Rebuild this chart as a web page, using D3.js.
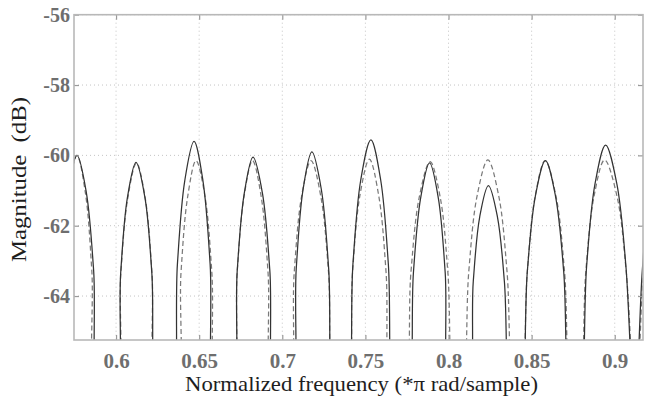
<!DOCTYPE html>
<html>
<head>
<meta charset="utf-8">
<script src="https://cdn.jsdelivr.net/npm/d3@7"></script>
<style>
  body { margin: 0; background: #fff; }
  svg { display: block; }
  svg text { font-family: 'Liberation Serif', 'DejaVu Serif', 'Times New Roman', serif; }
</style>
</head>
<body>
<div id="chart"><svg></svg></div>
<script>
// tick values
const xTicks = [0.6, 0.65, 0.7, 0.75, 0.8, 0.85, 0.9]
const yTicks = [-64, -62, -60, -58, -56]

// [normalized frequency, magnitude dB], solid trace
const solidTrace = [
  [0.5651, -63.3], [0.5709, -61.05], [0.5765, -60.0], [0.5821, -61.05], [0.5865, -63.26], [0.5909, -67.35],
  [0.5987, -67.27], [0.6028, -63.33], [0.6068, -61.21], [0.6120, -60.2], [0.6174, -61.21], [0.6215, -63.33], [0.6257, -67.27],
  [0.6326, -67.51], [0.6369, -63.10], [0.6413, -60.73], [0.6469, -59.6], [0.6523, -60.73], [0.6566, -63.10], [0.6608, -67.51],
  [0.6688, -67.33], [0.6729, -63.27], [0.6771, -61.09], [0.6824, -60.05], [0.6881, -61.09], [0.6925, -63.27], [0.6970, -67.33],
  [0.7043, -67.39], [0.7084, -63.22], [0.7125, -60.97], [0.7178, -59.9], [0.7235, -60.97], [0.7279, -63.22], [0.7323, -67.39],
  [0.7377, -67.53], [0.7425, -63.09], [0.7472, -60.70], [0.7533, -59.56], [0.7592, -60.70], [0.7638, -63.09], [0.7685, -67.53],
  [0.7747, -67.27], [0.7789, -63.33], [0.7832, -61.22], [0.7886, -60.21], [0.7939, -61.22], [0.7980, -63.33], [0.8021, -67.27],
  [0.8108, -67.01], [0.8149, -63.58], [0.8188, -61.74], [0.8240, -60.86], [0.8294, -61.74], [0.8336, -63.58], [0.8379, -67.01],
  [0.8427, -67.29], [0.8474, -63.31], [0.8522, -61.17], [0.8583, -60.15], [0.8644, -61.17], [0.8693, -63.31], [0.8740, -67.29],
  [0.8780, -67.47], [0.8831, -63.14], [0.8881, -60.82], [0.8945, -59.71], [0.9013, -60.82], [0.9067, -63.14], [0.9120, -67.47],
  [0.9166, -63.26], [0.9210, -61.05], [0.9267, -60.0]
]

// [normalized frequency, magnitude dB], dashed trace
const dashedTrace = [
  [0.5676, -63.26], [0.5715, -61.05], [0.5765, -60.0], [0.5815, -61.05], [0.5854, -63.26], [0.5893, -67.35],
  [0.5989, -67.26], [0.6029, -63.34], [0.6070, -61.23], [0.6123, -60.22], [0.6176, -61.23], [0.6216, -63.34], [0.6257, -67.26],
  [0.6352, -67.29], [0.6391, -63.31], [0.6431, -61.17], [0.6481, -60.15], [0.6535, -61.17], [0.6576, -63.31], [0.6618, -67.29],
  [0.6688, -67.29], [0.6729, -63.31], [0.6770, -61.17], [0.6821, -60.15], [0.6873, -61.17], [0.6914, -63.31], [0.6954, -67.29],
  [0.7028, -67.29], [0.7072, -63.31], [0.7116, -61.17], [0.7173, -60.15], [0.7232, -61.17], [0.7278, -63.31], [0.7324, -67.29],
  [0.7379, -67.31], [0.7423, -63.30], [0.7467, -61.14], [0.7524, -60.11], [0.7580, -61.14], [0.7624, -63.30], [0.7667, -67.31],
  [0.7723, -67.28], [0.7774, -63.32], [0.7824, -61.19], [0.7889, -60.18], [0.7950, -61.19], [0.7996, -63.32], [0.8043, -67.28],
  [0.8072, -67.30], [0.8122, -63.30], [0.8172, -61.15], [0.8237, -60.13], [0.8302, -61.15], [0.8352, -63.30], [0.8403, -67.30],
  [0.8427, -67.29], [0.8474, -63.31], [0.8521, -61.17], [0.8581, -60.15], [0.8647, -61.17], [0.8698, -63.31], [0.8749, -67.29],
  [0.8777, -67.30], [0.8826, -63.30], [0.8876, -61.15], [0.8939, -60.13], [0.9013, -61.15], [0.9069, -63.30], [0.9126, -67.30],
  [0.9170, -63.4], [0.9212, -61.1], [0.9267, -60.0]
]

const xDomain = [0.5747, 0.917]
const yDomain = [-65.25, -56]

const margin = { top: 14.7, right: 3, bottom: 63, left: 74 }
const svgWidth = 646
const svgHeight = 403
const width = svgWidth - margin.left - margin.right
const height = svgHeight - margin.top - margin.bottom

/**
 * Draws the dotted grid behind the traces.
 *
 * @param {*} g The d3 Selection of the graph's g SVG element
 * @param {*} x The x scale
 * @param {*} y The y scale
 */
function drawGrid (g, x, y) {
  const grid = g.append('g').attr('class', 'grid')
    .attr('stroke', '#c4c4c4')
    .attr('stroke-width', 1)
    .attr('stroke-dasharray', '1,3')

  grid.selectAll('.vx')
    .data(xTicks)
    .enter()
    .append('line')
    .attr('x1', (d) => x(d))
    .attr('x2', (d) => x(d))
    .attr('y1', 0)
    .attr('y2', height)

  grid.selectAll('.hy')
    .data(yTicks)
    .enter()
    .append('line')
    .attr('x1', 0)
    .attr('x2', width)
    .attr('y1', (d) => y(d))
    .attr('y2', (d) => y(d))
}

/**
 * Draws the box and the tick labels.
 *
 * @param {*} g The d3 Selection of the graph's g SVG element
 * @param {*} x The x scale
 * @param {*} y The y scale
 */
function drawAxes (g, x, y) {
  const xAxis = d3.axisBottom(x)
    .tickValues(xTicks)
    .tickSize(-5)
    .tickSizeOuter(0)
    .tickPadding(13)
    .tickFormat((d) => String(d))

  const yAxis = d3.axisLeft(y)
    .tickValues(yTicks)
    .tickSize(-5)
    .tickSizeOuter(0)
    .tickPadding(4)
    .tickFormat((d) => String(d))

  g.append('g')
    .attr('class', 'x axis')
    .attr('transform', 'translate(0,' + height + ')')
    .call(xAxis)

  g.append('g')
    .attr('class', 'y axis')
    .call(yAxis)

  // top and right mirror ticks
  g.append('g')
    .call(d3.axisTop(x).tickValues(xTicks).tickSize(-5).tickSizeOuter(0).tickFormat(''))
  g.append('g')
    .attr('transform', 'translate(' + width + ',0)')
    .call(d3.axisRight(y).tickValues(yTicks).tickSize(-5).tickSizeOuter(0).tickFormat(''))

  g.selectAll('.domain').remove()
  g.selectAll('.tick line').attr('stroke', '#9a9a9a').attr('stroke-width', 1.2)

  g.selectAll('.axis').attr('font-family', null)
  g.selectAll('.axis text')
    .attr('font-weight', 'bold')
    .attr('fill', '#6e6e6e')
  g.selectAll('.x.axis text').attr('font-size', 21)
  g.selectAll('.y.axis text').attr('font-size', 20)

  g.append('rect')
    .attr('x', 0)
    .attr('y', 0)
    .attr('width', width)
    .attr('height', height)
    .attr('fill', 'none')
    .attr('stroke', '#b8b8b8')
    .attr('stroke-width', 1.6)
}

/**
 * Draws one magnitude trace.
 *
 * @param {*} g The d3 Selection of the graph's g SVG element
 * @param {Array[]} data The trace points
 * @param {*} x The x scale
 * @param {*} y The y scale
 * @param {string} color The stroke colour
 * @param {string} dash The dash pattern
 */
function drawTrace (g, data, x, y, color, dash) {
  const line = d3.line()
    .x((d) => x(d[0]))
    .y((d) => y(d[1]))
    .curve(d3.curveCatmullRom.alpha(0.5))

  g.append('path')
    .datum(data)
    .attr('clip-path', 'url(#plot-clip)')
    .attr('fill', 'none')
    .attr('stroke', color)
    .attr('stroke-width', 1.25)
    .attr('stroke-dasharray', dash)
    .attr('d', line)
}

const svg = d3.select('#chart').select('svg')
  .attr('width', svgWidth)
  .attr('height', svgHeight)

svg.append('rect')
  .attr('width', svgWidth)
  .attr('height', svgHeight)
  .attr('fill', '#fff')

const g = svg.append('g')
  .attr('transform', 'translate(' + margin.left + ',' + margin.top + ')')

const x = d3.scaleLinear().domain(xDomain).range([0, width])
const y = d3.scaleLinear().domain(yDomain).range([height, 0])

g.append('defs')
  .append('clipPath')
  .attr('id', 'plot-clip')
  .append('rect')
  .attr('width', width)
  .attr('height', height)

drawGrid(g, x, y)
drawTrace(g, dashedTrace, x, y, '#7a7a7a', '5,3')
drawTrace(g, solidTrace, x, y, '#333333', null)
drawAxes(g, x, y)

svg.append('text')
  .attr('text-anchor', 'middle')
  .attr('transform', 'translate(26,179.5) rotate(-90)')
  .attr('font-size', 21.5)
  .attr('fill', '#1e1e1e')
  .attr('textLength', 165)
  .attr('lengthAdjust', 'spacingAndGlyphs')
  .style('white-space', 'pre')
  .text('Magnitude  (dB)')

svg.append('text')
  .attr('text-anchor', 'middle')
  .attr('x', 361.5)
  .attr('y', 391)
  .attr('font-size', 21.5)
  .attr('fill', '#1e1e1e')
  .attr('textLength', 353)
  .attr('lengthAdjust', 'spacingAndGlyphs')
  .text('Normalized frequency (*π rad/sample)')
</script>
</body>
</html>
